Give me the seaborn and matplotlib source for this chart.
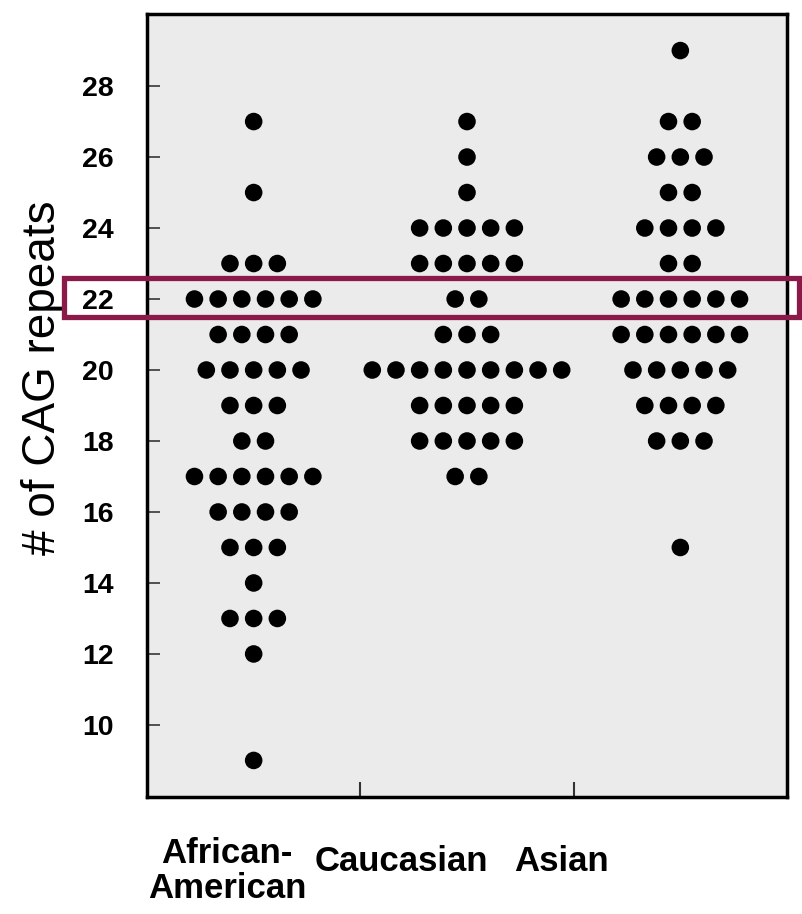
import matplotlib
matplotlib.use("Agg")
import numpy as np
import pandas as pd
import matplotlib.pyplot as plt
import matplotlib.transforms as mtransforms
from matplotlib.patches import Rectangle
import seaborn as sns

# Groups and their axis labels
groups = ["African-American", "Caucasian", "Asian"]
group_labels = ["African-\nAmerican", "Caucasian", "Asian"]

# Number of CAG repeats, one entry per subject
african_american = [27, 25,
                    23, 23, 23,
                    22, 22, 22, 22, 22, 22,
                    21, 21, 21, 21,
                    20, 20, 20, 20, 20,
                    19, 19, 19,
                    18, 18,
                    17, 17, 17, 17, 17, 17,
                    16, 16, 16, 16,
                    15, 15, 15,
                    14,
                    13, 13, 13,
                    12,
                    9]
caucasian = [27, 26, 25,
             24, 24, 24, 24, 24,
             23, 23, 23, 23, 23,
             22, 22,
             21, 21, 21,
             20, 20, 20, 20, 20, 20, 20, 20, 20,
             19, 19, 19, 19, 19,
             18, 18, 18, 18, 18,
             17, 17]
asian = [29,
         27, 27,
         26, 26, 26,
         25, 25,
         24, 24, 24, 24,
         23, 23,
         22, 22, 22, 22, 22, 22,
         21, 21, 21, 21, 21, 21,
         20, 20, 20, 20, 20,
         19, 19, 19, 19,
         18, 18, 18,
         15]

y_ticks = [10, 12, 14, 16, 18, 20, 22, 24, 26, 28]
highlight_value = 22

# Dot-plot layout: identical values form a centred row
DOT_STEP = 0.111
rows = []
for gi, (name, values) in enumerate(zip(groups, [african_american, caucasian, asian])):
    s = pd.Series(values)
    for v, n in s.value_counts().sort_index().items():
        for j in range(n):
            rows.append({"group": name, "repeats": v,
                         "x": gi + (j - (n - 1) / 2) * DOT_STEP})
df = pd.DataFrame(rows)

sns.set_theme(style="ticks")
plt.rcParams["font.family"] = ["Liberation Sans", "DejaVu Sans"]
plt.rcParams["text.color"] = "black"
plt.rcParams["axes.labelcolor"] = "black"
plt.rcParams["xtick.color"] = "black"
plt.rcParams["ytick.color"] = "black"

fig = plt.figure(figsize=(8.02, 9.14), dpi=100)
fig.patch.set_facecolor("white")
ax = fig.add_axes([147 / 802, 1 - 797 / 914, 640 / 802, 783 / 914])
ax.set_facecolor("#ebebeb")

sns.scatterplot(data=df, x="x", y="repeats", color="black", s=160,
                linewidth=0, edgecolor="none", ax=ax, legend=False, zorder=3)

ax.set_xlim(-0.5, 2.5)
ax.set_ylim(7.97, 30.03)

for sp in ax.spines.values():
    sp.set_visible(True)
    sp.set_color("black")
    sp.set_linewidth(2.5)

ax.set_yticks(y_ticks)
ax.set_yticklabels([str(t) for t in y_ticks], fontsize=20.5, fontweight="bold")
ax.tick_params(axis="y", direction="in", length=9, width=1.3, color="#444444",
               labelcolor="black", pad=24)

ax.set_xticks([])
ax.set_xticks([0.5, 1.5], minor=True)
ax.tick_params(axis="x", which="minor", direction="in", length=11, width=1.5,
               color="#333333", labelbottom=False)
ax.set_xlabel("")

ax.set_ylabel("# of CAG repeats", fontsize=33, color="black")
ax.yaxis.set_label_coords(-0.128, 0.535)

label_x = [0.125, 0.398, 0.648]
label_y = [-0.094, -0.083, -0.083]
for lx, ly, txt in zip(label_x, label_y, group_labels):
    ax.text(lx, ly, txt, transform=ax.transAxes, ha="center", va="center",
            fontsize=25, fontweight="bold", linespacing=1.08, color="black")

# Highlight box around the most common repeat length
blend = mtransforms.blended_transform_factory(fig.transFigure, ax.transData)
box = Rectangle((64 / 802, highlight_value - 0.52), (799 - 64) / 802, 1.10,
                transform=blend, fill=False, edgecolor="#8b1a4b", linewidth=3.8,
                clip_on=False, zorder=5)
fig.add_artist(box)

fig.savefig("out.png", dpi=100, facecolor="white")
